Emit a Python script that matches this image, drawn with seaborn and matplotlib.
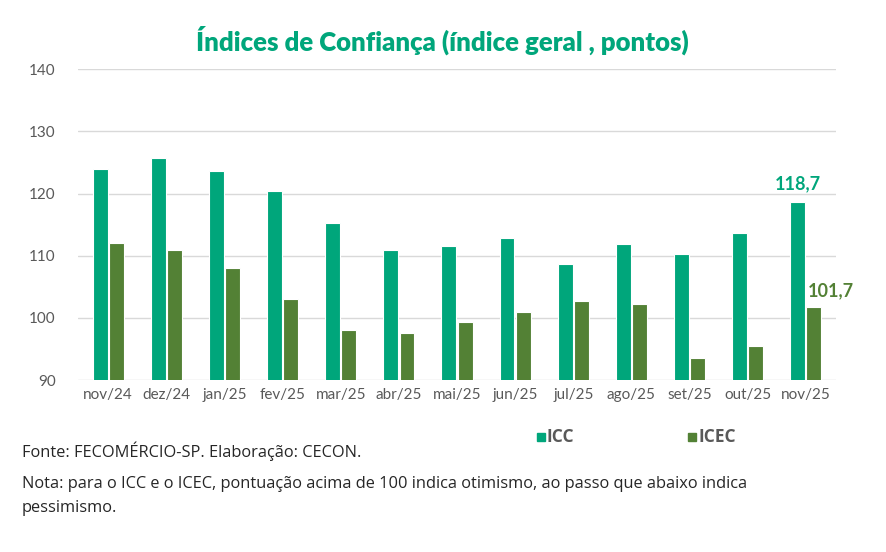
import matplotlib
matplotlib.use("Agg")
import matplotlib.pyplot as plt
import seaborn as sns
import pandas as pd
from matplotlib.patches import Rectangle

months = ["nov/24", "dez/24", "jan/25", "fev/25", "mar/25", "abr/25", "mai/25",
          "jun/25", "jul/25", "ago/25", "set/25", "out/25", "nov/25"]
icc = [124.0, 125.8, 123.6, 120.4, 115.3, 110.9, 111.6, 112.9, 108.7, 111.9, 110.2, 113.6, 118.7]
icec = [112.1, 110.9, 108.0, 103.1, 98.0, 97.5, 99.3, 100.9, 102.7, 102.2, 93.6, 95.4, 101.7]
series = ["ICC", "ICEC"]
colors = ["#00A67B", "#538135"]
yticks = [90, 100, 110, 120, 130, 140]

df = pd.DataFrame({
    "mes": months * 2,
    "valor": icc + icec,
    "serie": [series[0]] * len(months) + [series[1]] * len(months),
})

sns.set_theme(style="white")
plt.rcParams["font.family"] = ["Lato", "DejaVu Sans"]

fig = plt.figure(figsize=(8.86, 5.52), dpi=100)
ax = fig.add_axes([78 / 886, 1 - 380 / 552, 758 / 886, (380 - 69.3) / 552])

sns.barplot(data=df, x="mes", y="valor", hue="serie", order=months,
            hue_order=series, palette=colors, saturation=1, width=0.56, gap=0.08,
            edgecolor="white", linewidth=0.8, ax=ax, legend=False, zorder=3)

ax.set_ylim(90, 140)
ax.set_xlim(-0.52, len(months) - 1 + 0.52)
ax.set_yticks(yticks)
ax.set_yticklabels([str(t) for t in yticks])
ax.yaxis.grid(True, color="#D9D9D9", linewidth=1.0, zorder=0)
ax.xaxis.grid(False)
for s in ax.spines.values():
    s.set_visible(False)
ax.tick_params(axis="both", length=0, labelsize=11, labelcolor="#595959")
ax.tick_params(axis="y", pad=16)
ax.tick_params(axis="x", pad=6)
ax.set_xlabel("")
ax.set_ylabel("")

# data labels on last month
last = len(months) - 1
ax.annotate(f"{icc[-1]:.1f}".replace(".", ","), xy=(last - 0.14, icc[-1]),
            xytext=(0, 7), textcoords="offset points", ha="center", va="bottom",
            fontsize=13, fontweight="bold", color=colors[0])
ax.annotate(f"{icec[-1]:.1f}".replace(".", ","), xy=(last + 0.14, icec[-1]),
            xytext=(12, 6), textcoords="offset points", ha="center", va="bottom",
            fontsize=13, fontweight="bold", color=colors[1])

# title
fig.text(442 / 886, 1 - 40 / 552, "Índices de Confiança (índice geral , pontos)",
         ha="center", va="center", fontsize=18.5, fontweight="heavy",
         color="#00A67B")

# legend
for xpos, label, col in [(537, series[0], colors[0]), (688, series[1], colors[1])]:
    fig.patches.append(Rectangle((xpos / 886, 1 - 441 / 552), 8 / 886, 8 / 552,
                                 transform=fig.transFigure, color=col))
    fig.text((xpos + 10) / 886, 1 - 437 / 552, label, ha="left", va="center",
             fontsize=12.5, fontweight="bold", color="#595959",
             family=["Open Sans", "DejaVu Sans"])

# footnotes
foot = dict(ha="left", va="center", fontsize=11.8, color="#262626",
            family=["Open Sans", "DejaVu Sans"])
fig.text(22 / 886, 1 - 451 / 552, "Fonte: FECOMÉRCIO-SP. Elaboração: CECON.", **foot)
fig.text(22 / 886, 1 - 484 / 552,
         "Nota: para o ICC e o ICEC, pontuação acima de 100 indica otimismo, ao passo que abaixo indica",
         **foot)
fig.text(22 / 886, 1 - 508 / 552, "pessimismo.", **foot)

fig.savefig("out.png", dpi=100, facecolor="white")
